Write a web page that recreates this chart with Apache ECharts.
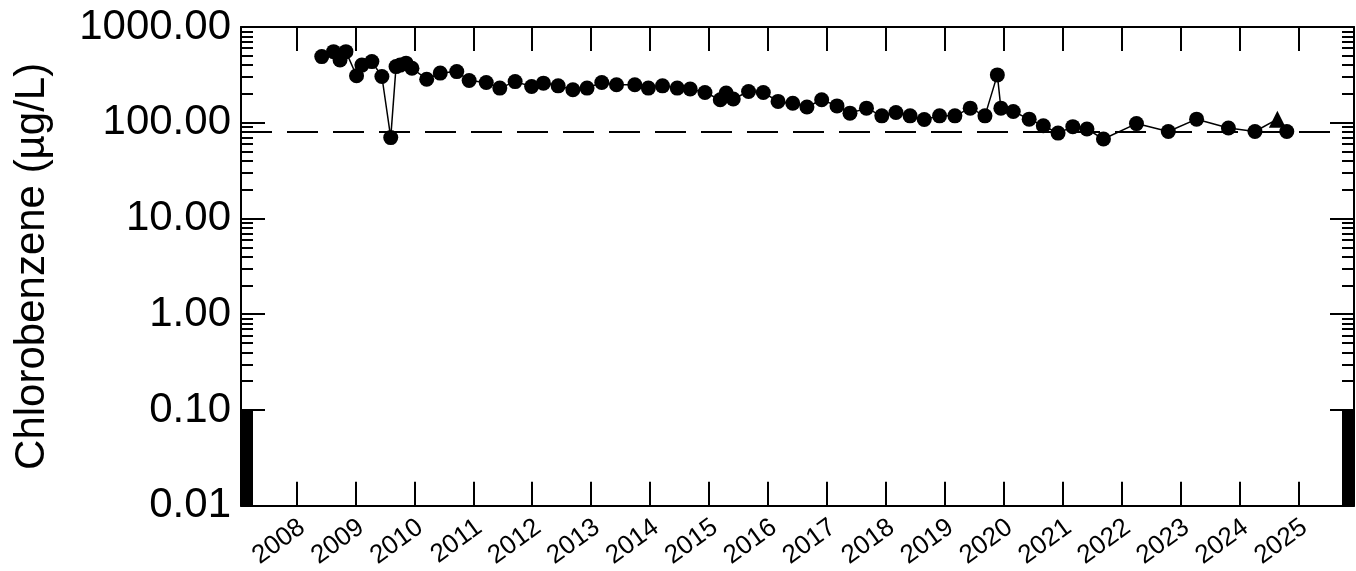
<!DOCTYPE html>
<html><head><meta charset="utf-8">
<script src="https://cdn.jsdelivr.net/npm/echarts@6/dist/echarts.min.js"></script>
<style>html,body{margin:0;padding:0;background:#fff}#c{width:1356px;height:571px}</style>
</head><body><div id="c"></div>
<script>
// Sample dates as decimal years
const sampleYears = [
  2008.43, 2008.63, 2008.74, 2008.84, 2009.02, 2009.11, 2009.28, 2009.45, 2009.60, 2009.69,
  2009.76, 2009.86, 2009.96, 2010.21, 2010.44, 2010.72, 2010.93, 2011.22, 2011.45, 2011.71,
  2011.99, 2012.19, 2012.44, 2012.69, 2012.93, 2013.18, 2013.43, 2013.74, 2013.97, 2014.21,
  2014.46, 2014.68, 2014.93, 2015.19, 2015.29, 2015.41, 2015.67, 2015.92, 2016.17, 2016.42,
  2016.66, 2016.91, 2017.17, 2017.39, 2017.67, 2017.93, 2018.17, 2018.41, 2018.65, 2018.91,
  2019.17, 2019.43, 2019.68, 2019.89, 2019.95, 2020.16, 2020.43, 2020.67, 2020.92, 2021.17,
  2021.41, 2021.69, 2022.25, 2022.79, 2023.27, 2023.81, 2024.26, 2024.64, 2024.80
];
// Chlorobenzene concentrations (µg/L)
const chlorobenzene = [
  491, 553, 453, 553, 310, 400, 435, 304, 70, 386,
  400, 419, 371, 285, 330, 342, 276, 263, 230, 269,
  239, 259, 243, 221, 230, 263, 249, 249, 230, 243,
  230, 225, 207, 174, 204, 177, 212, 207, 167, 160,
  146, 174, 150, 126, 142, 118, 128, 118, 108, 118,
  118, 142, 118, 316, 142, 131, 109, 93, 78, 91,
  86, 67.6, 98, 81, 109, 88, 81, 109, 81
];
// samples drawn with a triangle marker
const triangleYears = [2024.64];
const screeningLevel = 80;
const yearTicks = [2008,2009,2010,2011,2012,2013,2014,2015,2016,2017,2018,2019,2020,2021,2022,2023,2024,2025];
const yMajorTicks = [0.01, 0.1, 1, 10, 100, 1000];
const xMin = 2007.06, xMax = 2025.94;
const labelShift = 0.1; // small layout nudge of the slanted year labels (years)

// minor tick positions on the log axis
const yMinorTicks = [];
for (let v = 0.0105; v < 0.1; v += 0.0005) yMinorTicks.push(+v.toFixed(4));
[0.1, 1, 10, 100].forEach(d => { for (let k = 2; k <= 9; k++) yMinorTicks.push(+(k * d).toFixed(4)); });

const FONT = 'Liberation Sans, Arial, Helvetica, sans-serif';
const black = '#000';

const seriesData = sampleYears.map((x, i) => {
  const item = { value: [x, chlorobenzene[i]] };
  if (triangleYears.includes(x)) { item.symbol = 'triangle'; item.symbolSize = 17; }
  return item;
});

function yAxisBase(pos, ticks, len, showLabel, showLine) {
  return {
    type: 'log', logBase: 10, min: 0.01, max: 1000, position: pos,
    axisLine: { show: showLine, onZero: false, lineStyle: { color: black, width: 2 } },
    axisTick: { show: true, inside: true, length: len, lineStyle: { color: black, width: 2 }, customValues: ticks },
    axisLabel: { show: showLabel, customValues: yMajorTicks, formatter: v => Number(v).toFixed(2),
      color: black, fontSize: 42, fontFamily: FONT, margin: 10 },
    splitLine: { show: false }, minorTick: { show: false }
  };
}

const yAxes = [
  Object.assign(yAxisBase('left', yMajorTicks, 24, true, true), {
    name: 'Chlorobenzene (µg/L)', nameLocation: 'middle', nameGap: 188,
    nameTextStyle: { color: black, fontSize: 42, fontFamily: FONT }
  }),
  yAxisBase('right', yMajorTicks, 24, false, true),
  yAxisBase('left', yMinorTicks, 12, false, false),
  yAxisBase('right', yMinorTicks, 12, false, false)
];

function xAxisBase(pos, showLabel) {
  return {
    type: 'value', min: xMin, max: xMax, position: pos,
    axisLine: { show: true, onZero: false, lineStyle: { color: black, width: 2 } },
    axisTick: { show: true, inside: true, length: 24, lineStyle: { color: black, width: 2 }, customValues: yearTicks },
    axisLabel: { show: showLabel, customValues: yearTicks.map(y => y + labelShift),
      formatter: v => String(Math.floor(v)),
      rotate: 36, color: black, fontSize: 26, fontFamily: FONT, margin: 19 },
    splitLine: { show: false }
  };
}

const chart = echarts.init(document.getElementById('c'), null, { renderer: 'canvas' });
chart.setOption({
  animation: false,
  backgroundColor: '#fff',
  grid: { left: 241, right: 2, top: 27, bottom: 64, containLabel: false },
  xAxis: [xAxisBase('bottom', true), xAxisBase('top', false)],
  yAxis: yAxes,
  series: [{
    type: 'line', xAxisIndex: 0, yAxisIndex: 0,
    data: seriesData,
    symbol: 'circle', symbolSize: 15,
    itemStyle: { color: black },
    lineStyle: { color: black, width: 1.5 },
    markLine: {
      silent: true, symbol: ['none', 'none'],
      label: { show: false },
      lineStyle: { color: black, width: 2, type: [31, 15] },
      data: [{ yAxis: screeningLevel }]
    }
  }]
});
</script>
</body></html>
